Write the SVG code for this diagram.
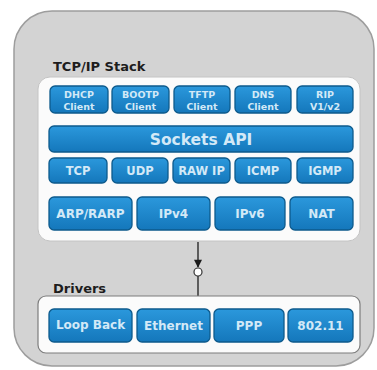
<svg xmlns="http://www.w3.org/2000/svg" width="377" height="370" viewBox="0 0 377 370">
  <defs>
    <linearGradient id="btnFill" x1="0" y1="0" x2="0" y2="1">
      <stop offset="0" stop-color="#2b98dc"/>
      <stop offset="1" stop-color="#1477bb"/>
    </linearGradient>
    <marker id="arrowHead" viewBox="0 0 10 10" refX="9" refY="5" markerWidth="9" markerHeight="8" markerUnits="userSpaceOnUse" orient="auto">
      <path d="M0,0 L10,5 L0,10 z" fill="#1a1a1a"/>
    </marker>
    <style>
      .frame { fill: #d3d3d3; stroke: #9d9d9d; stroke-width: 1.5; }
      .panel { fill: #fbfbfb; stroke: #c4c4c4; stroke-width: 1; }
      .panel-dark { fill: #fbfbfb; stroke: #7d7d7d; stroke-width: 1.2; }
      .title { font-family: "DejaVu Sans", Verdana, sans-serif; font-weight: bold; font-size: 13px; fill: #1d1d1d; }
      .btn rect { fill: url(#btnFill); stroke: #0d5a8c; stroke-width: 1.3; }
      .btn text { font-family: "DejaVu Sans", Verdana, sans-serif; font-weight: bold; fill: #d3e9f7; text-anchor: middle; }
      .s9 { font-size: 9.5px; }
      .s11 { font-size: 11.5px; }
      .s12 { font-size: 12px; }
      .s15 { font-size: 15.5px; }
      .wire { stroke: #2a2a2a; stroke-width: 1.4; fill: none; }
      .joint { fill: #ffffff; stroke: #333; stroke-width: 1.2; }
    </style>
  </defs>

  <!-- outer frame -->
  <rect class="frame" x="14" y="11" width="360" height="355" rx="38"/>

  <!-- TCP/IP stack panel -->
  <text class="title" x="53" y="71">TCP/IP Stack</text>
  <rect class="panel" x="38" y="77" width="322" height="164" rx="12"/>

  <!-- application clients -->
  <g id="dhcp" class="btn"><rect x="50" y="86" width="58" height="27" rx="5"/><text class="s9" x="79" y="97.5">DHCP</text><text class="s9" x="79" y="109.5">Client</text></g>
  <g id="bootp" class="btn"><rect x="112" y="86" width="57" height="27" rx="5"/><text class="s9" x="140.5" y="97.5">BOOTP</text><text class="s9" x="140.5" y="109.5">Client</text></g>
  <g id="tftp" class="btn"><rect x="174" y="86" width="56" height="27" rx="5"/><text class="s9" x="202" y="97.5">TFTP</text><text class="s9" x="202" y="109.5">Client</text></g>
  <g id="dns" class="btn"><rect x="235" y="86" width="56" height="27" rx="5"/><text class="s9" x="263" y="97.5">DNS</text><text class="s9" x="263" y="109.5">Client</text></g>
  <g id="rip" class="btn"><rect x="297" y="86" width="56" height="27" rx="5"/><text class="s9" x="325" y="97.5">RIP</text><text class="s9" x="325" y="109.5">V1/v2</text></g>

  <!-- sockets layer -->
  <g id="sockets" class="btn"><rect x="49" y="126" width="304" height="26" rx="5"/><text class="s15" x="201" y="144.5">Sockets API</text></g>

  <!-- transport layer -->
  <g id="tcp" class="btn"><rect x="49" y="158" width="58" height="25" rx="5"/><text class="s11" x="78" y="174.5">TCP</text></g>
  <g id="udp" class="btn"><rect x="112" y="158" width="56" height="25" rx="5"/><text class="s11" x="140" y="174.5">UDP</text></g>
  <g id="rawip" class="btn"><rect x="173" y="158" width="57" height="25" rx="5"/><text class="s11" x="201.5" y="174.5">RAW IP</text></g>
  <g id="icmp" class="btn"><rect x="235" y="158" width="56" height="25" rx="5"/><text class="s11" x="263" y="174.5">ICMP</text></g>
  <g id="igmp" class="btn"><rect x="297" y="158" width="56" height="25" rx="5"/><text class="s11" x="325" y="174.5">IGMP</text></g>

  <!-- network layer -->
  <g id="arp" class="btn"><rect x="49" y="197" width="83" height="33" rx="5"/><text class="s12" x="90.5" y="217.5">ARP/RARP</text></g>
  <g id="ipv4" class="btn"><rect x="137" y="197" width="73" height="33" rx="5"/><text class="s12" x="173.5" y="218">IPv4</text></g>
  <g id="ipv6" class="btn"><rect x="215" y="197" width="70" height="33" rx="5"/><text class="s12" x="250" y="218">IPv6</text></g>
  <g id="nat" class="btn"><rect x="290" y="197" width="63" height="33" rx="5"/><text class="s12" x="321.5" y="218">NAT</text></g>

  <!-- stack to drivers link -->
  <g id="connectors">
    <line class="wire" x1="198" y1="242" x2="198" y2="267" marker-end="url(#arrowHead)"/>
    <line class="wire" x1="198" y1="276" x2="198" y2="296"/>
    <circle class="joint" cx="198" cy="272" r="4"/>
  </g>

  <!-- drivers panel -->
  <text class="title" x="53" y="293">Drivers</text>
  <rect class="panel-dark" x="38" y="296" width="322" height="57" rx="8"/>
  <g id="loopback" class="btn"><rect x="49" y="309" width="83" height="33" rx="5"/><text class="s12" x="90.5" y="329">Loop Back</text></g>
  <g id="ethernet" class="btn"><rect x="137" y="309" width="73" height="33" rx="5"/><text class="s12" x="173.5" y="330">Ethernet</text></g>
  <g id="ppp" class="btn"><rect x="214" y="309" width="70" height="33" rx="5"/><text class="s12" x="249" y="330">PPP</text></g>
  <g id="wifi" class="btn"><rect x="288" y="309" width="65" height="33" rx="5"/><text class="s12" x="320.5" y="330">802.11</text></g>
</svg>
